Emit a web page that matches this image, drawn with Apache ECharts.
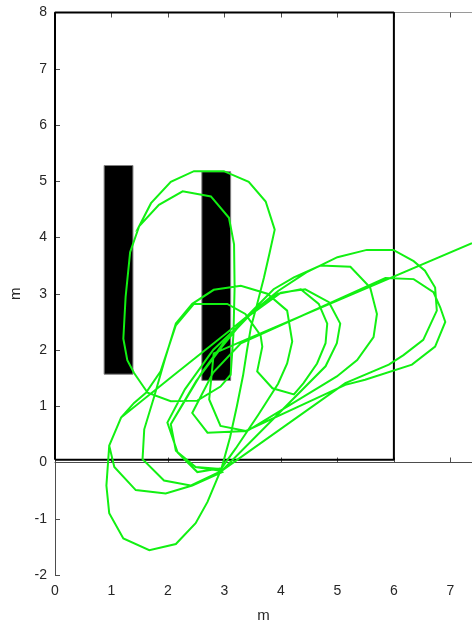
<!DOCTYPE html>
<html>
<head>
<meta charset="utf-8">
<script src="https://cdn.jsdelivr.net/npm/echarts@6/dist/echarts.min.js"></script>
<style>
  html, body { margin: 0; padding: 0; background: #fff; }
  #chart { width: 472px; height: 628px; }
</style>
</head>
<body>
<div id="chart"></div>
<script>
// Axis ranges (metres)
const xMin = 0, xMax = 7.383, yMin = -2, yMax = 8;

// Room boundary (closed outline)
const roomX = [0, 6, 6, 0, 0];
const roomY = [0.05, 0.05, 8, 8, 0.05];

// Rectangular obstacles: left, right, bottom, top
const obstacleLeft   = [0.87, 2.60];
const obstacleRight  = [1.38, 3.11];
const obstacleBottom = [1.57, 1.46];
const obstacleTop    = [5.28, 5.17];

// Robot trajectory as [x, y] points
const trajectory = [
  // first loop around the second obstacle
  [1.49,4.20],[1.33,3.74],[1.25,2.94],[1.21,2.20],[1.28,1.82],[1.40,1.59],[1.64,1.24],[2.05,1.09],
  [2.52,1.10],[2.93,1.35],[3.11,1.56],[3.16,2.29],[3.18,3.11],[3.17,3.88],[3.08,4.35],[2.76,4.73],
  [2.26,4.82],[1.84,4.58],[1.49,4.20],
  // wide loop over the obstacle and down below the room
  [1.70,4.61],[2.05,4.99],[2.46,5.18],[2.99,5.18],[3.43,4.99],[3.73,4.64],[3.89,4.14],[3.80,3.73],
  [3.70,3.29],[3.58,2.82],[3.47,2.41],[3.40,2.00],[3.33,1.55],[3.22,1.00],[3.10,0.45],[2.95,-0.10],
  [2.70,-0.70],[2.49,-1.08],[2.14,-1.45],[1.67,-1.56],[1.21,-1.35],[0.96,-0.90],[0.91,-0.41],
  [0.96,0.30],[1.17,0.80],[1.40,1.06],[1.61,1.24],[1.87,1.62],[2.14,2.44],
  // small arch then loop reaching x = 4.8
  [2.46,2.82],[3.05,2.82],[3.37,2.64],[3.64,2.26],[3.67,2.06],[3.58,1.62],[3.85,1.32],[4.23,1.21],
  [4.40,1.41],[4.64,1.76],[4.79,2.12],[4.82,2.47],[4.67,2.82],[4.35,3.08],[3.95,3.00],[3.45,2.62],
  [3.00,2.15],[2.60,1.60],[2.30,1.10],[2.05,0.68],[2.14,0.21],[2.49,-0.08],[2.87,-0.11],[2.96,-0.17],
  // loop reaching x = 6.8
  [2.43,-0.41],[1.96,-0.55],[1.43,-0.49],[1.05,-0.08],[0.96,0.30],[1.17,0.80],[2.10,1.55],[3.10,2.35],
  [3.50,2.68],[3.95,3.05],[4.45,3.38],[5.00,3.65],[5.52,3.78],[5.99,3.78],[6.35,3.58],[6.55,3.41],
  [6.73,3.11],[6.76,2.70],[6.52,2.18],[6.17,1.91],[5.91,1.74],[5.14,1.41],[2.95,-0.15],
  // loop reaching x = 4.2
  [2.40,-0.41],[1.93,-0.32],[1.55,0.06],[1.58,0.59],[1.75,1.15],[1.95,1.85],[2.14,2.47],[2.43,2.82],
  [2.81,3.07],[3.29,3.14],[3.76,3.00],[4.11,2.70],[4.20,2.15],[4.11,1.76],[3.95,1.40],[3.60,0.85],
  [3.20,0.25],[2.95,-0.10],
  // loop reaching x = 5.05
  [2.52,-0.17],[2.17,0.18],[1.99,0.71],[2.30,1.30],[2.80,2.00],[3.45,2.62],[4.00,3.02],[4.43,3.08],
  [4.85,2.85],[5.05,2.47],[4.99,2.12],[4.79,1.71],[2.95,-0.15],
  // loop reaching x = 5.7
  [2.49,-0.08],[2.14,0.21],[2.05,0.68],[2.50,1.45],[2.95,2.05],[3.40,2.60],[3.87,3.08],[4.23,3.29],
  [4.70,3.50],[5.23,3.48],[5.58,3.11],[5.70,2.64],[5.64,2.23],[5.35,1.82],[4.99,1.53],[3.40,0.56],
  // loop reaching x = 6.9
  [2.70,0.53],[2.43,0.88],[2.80,1.60],[3.29,2.12],[5.85,3.28],[6.35,3.26],[6.70,3.03],[6.82,2.76],
  [6.91,2.50],[6.73,2.06],[6.32,1.74],[5.49,1.47],[5.14,1.38],[3.38,0.56],
  // leaving the room
  [2.93,0.65],[2.73,1.12],[2.81,1.94],[7.383,3.90]
];

const chart = echarts.init(document.getElementById('chart'), null, { renderer: 'canvas' });

const axisColor = '#4d4d4d';
const labelStyle = { color: '#262626', fontSize: 14, fontFamily: 'Liberation Sans, Arial, sans-serif' };

const intLabel = v => (Math.abs(v - Math.round(v)) < 1e-6 ? String(Math.round(v)) : '');

chart.setOption({
  animation: false,
  backgroundColor: '#ffffff',
  grid: { left: 54, right: 0, top: 12.5, bottom: 47.5, containLabel: false },
  xAxis: [
    {
      type: 'value', min: xMin, max: xMax, interval: 1, position: 'bottom',
      name: 'm', nameLocation: 'middle', nameGap: 33,
      nameTextStyle: { color: '#262626', fontSize: 15, fontFamily: 'Liberation Sans, Arial, sans-serif' },
      axisLine: { show: true, lineStyle: { color: axisColor, width: 1 } },
      axisTick: { show: true, inside: true, length: 5, lineStyle: { color: axisColor } },
      axisLabel: Object.assign({ margin: 9, formatter: intLabel, showMaxLabel: false }, labelStyle),
      splitLine: { show: false }
    },
    {
      type: 'value', min: xMin, max: xMax, interval: 1, position: 'top',
      axisLine: { show: true, lineStyle: { color: '#9a9a9a', width: 1 } },
      axisTick: { show: true, inside: true, length: 5, lineStyle: { color: axisColor } },
      axisLabel: { show: false },
      splitLine: { show: false }
    }
  ],
  yAxis: {
    type: 'value', min: yMin, max: yMax, interval: 1,
    name: 'm', nameLocation: 'middle', nameGap: 32,
    nameTextStyle: { color: '#262626', fontSize: 15, fontFamily: 'Liberation Sans, Arial, sans-serif' },
    axisLine: { show: true, lineStyle: { color: axisColor, width: 1 } },
    axisTick: { show: true, inside: true, length: 5, lineStyle: { color: axisColor } },
    axisLabel: Object.assign({ margin: 8, formatter: intLabel }, labelStyle),
    splitLine: { show: false }
  },
  series: [
    {
      name: 'obstacles',
      type: 'custom',
      xAxisIndex: 0,
      encode: { x: [0, 1], y: [2, 3] },
      data: obstacleLeft.map((l, i) => [l, obstacleRight[i], obstacleBottom[i], obstacleTop[i]]),
      renderItem: (params, api) => {
        const a = api.coord([api.value(0), api.value(3)]);
        const b = api.coord([api.value(1), api.value(2)]);
        return {
          type: 'rect',
          shape: { x: a[0], y: a[1], width: b[0] - a[0], height: b[1] - a[1] },
          style: { fill: '#000000', stroke: '#808080', lineWidth: 1 }
        };
      },
      z: 2
    },
    {
      name: 'room',
      type: 'line',
      xAxisIndex: 0,
      data: roomX.map((x, i) => [x, roomY[i]]),
      showSymbol: false,
      lineStyle: { color: '#000000', width: 2 },
      clip: false,
      z: 3
    },
    {
      name: 'trajectory',
      type: 'line',
      xAxisIndex: 0,
      data: trajectory,
      showSymbol: false,
      lineStyle: { color: '#12f012', width: 2, join: 'miter' },
      clip: true,
      z: 4
    }
  ]
});
</script>
</body>
</html>
